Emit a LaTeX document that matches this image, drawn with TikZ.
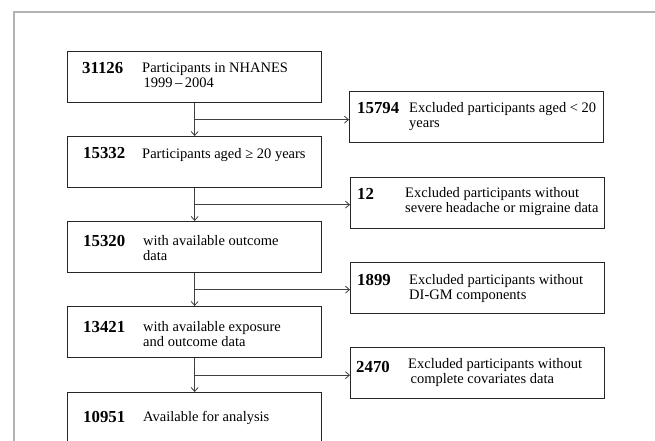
\documentclass[tikz,border=0pt]{standalone}
\usepackage{fontspec}
\setmainfont{Liberation Serif}
\usetikzlibrary{arrows.meta,calc}

\newcommand{\twolines}[2]{\begin{tabular}[t]{@{}l@{}}#1\\#2\end{tabular}}

\tikzset{
	box/.style={draw=black!85, line width=1.3pt, rectangle, inner sep=0pt, anchor=north west, minimum width=254pt, minimum height=51pt},
	num/.style={anchor=base west, inner sep=0pt, font=\fontsize{16.8}{17}\selectfont\bfseries},
	txt/.style={anchor=base west, inner sep=0pt, font=\fontsize{14.5}{15}\selectfont},
	arr/.style={draw=black!75, line width=0.8pt, -{Straight Barb[length=4pt,width=7pt]}},
	frame/.style={draw=black!30, line width=1.5pt}
}

\begin{document}
\begin{tikzpicture}[x=1pt,y=-1pt]
			\useasboundingbox (0,0) rectangle (655,440);
			\draw[frame] (14,441) -- (14,12) -- (656,12);
			% main column
			\node[box] (n1) at (67,51) {};
			\node[box] (n2) at (67,136) {};
			\node[box] (n3) at (67,221) {};
			\node[box] (n4) at (67,306) {};
			\node[box] (n5) at (67,392) {};
			% excluded
			\node[box] (r1) at (349,91) {};
			\node[box] (r2) at (350,177) {};
			\node[box] (r3) at (350,262) {};
			\node[box] (r4) at (350,347) {};
			\node[num] (c1) at (82,73) {31126};
			\node[txt] (d1) at (142,72) {\twolines{Participants in NHANES}{\hspace*{1.5pt}1999\,--\,2004}};
			\node[num] (c2) at (83,158) {15332};
			\node[txt] (d2) at (142,158) {Participants aged ≥ 20 years};
			\node[num] (c3) at (83,246) {15320};
			\node[txt] (d3) at (143,245) {\twolines{with available outcome}{data}};
			\node[num] (c4) at (83,332) {13421};
			\node[txt] (d4) at (143,331) {\twolines{with available exposure}{and outcome data}};
			\node[num] (c5) at (83,422) {10951};
			\node[txt] (d5) at (143,421) {Available for analysis};
			\node[num] (e1) at (357,113) {15794};
			\node[txt] (f1) at (409,112) {\twolines{Excluded participants aged < 20}{years}};
			\node[num] (e2) at (357,199) {12};
			\node[txt] (f2) at (405,197) {\twolines{Excluded participants without}{severe headache or migraine data}};
			\node[num] (e3) at (357,285) {1899};
			\node[txt] (f3) at (409,284) {\twolines{Excluded participants without}{DI-GM components}};
			\node[num] (e4) at (356,372) {2470};
			\node[txt] (f4) at (408,368) {\twolines{Excluded participants without}{\hspace*{2.5pt}complete covariates data}};
			\foreach \a/\b/\r in {n1/n2/r1,n2/n3/r2,n3/n4/r3,n4/n5/r4}{
				\coordinate (m\a) at ($(\a.south)!0.5!(\b.north)$);
				\draw[arr] (\a.south) -- (\b.north);
				\draw[arr] (m\a) -- (m\a -| \r.west);
			}
\end{tikzpicture}
\end{document}
